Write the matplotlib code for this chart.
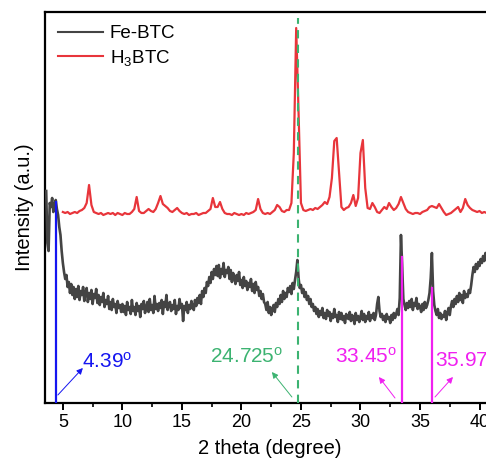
import numpy as np
import matplotlib
matplotlib.use("Agg")
import matplotlib.pyplot as plt

plt.rcParams['font.family'] = ['Liberation Sans', 'DejaVu Sans']
plt.rcParams['mathtext.fontset'] = 'custom'
plt.rcParams['mathtext.rm'] = 'Liberation Sans'
plt.rcParams['mathtext.it'] = 'Liberation Sans:italic'

# ---- scan grids (2 theta, degree) ----
two_theta_fe = np.round(np.arange(3.6, 41.41, 0.1), 1)
two_theta_h3 = np.round(np.arange(5.0, 41.41, 0.2), 1)

# ---- Fe-BTC intensity (a.u.) ----
fe_btc = [
    212, 160, 152, 200,
    196, 205, 191, 198, 203, 194, 188, 176, 168, 152,
    140, 131, 124, 128, 116, 121, 110, 119, 108, 116,
    104, 114, 106, 117, 103, 112, 108, 116, 102, 111,
    115, 101, 110, 104, 113, 99, 109, 105, 114, 100,
    108, 98, 106, 101, 110, 96, 103, 99, 107, 94,
    101, 93, 104, 96, 99, 90, 102, 95, 98, 91,
    99, 91, 97, 88, 101, 93, 96, 89, 103, 92,
    96, 88, 100, 92, 97, 86, 99, 94, 102, 90,
    95, 101, 91, 104, 93, 98, 90, 107, 94, 99,
    92, 100, 95, 103, 89, 101, 96, 108, 93, 99,
    101, 92, 98, 94, 103, 89, 97, 93, 104, 95,
    99, 82, 97, 93, 101, 90, 98, 94, 102, 96,
    93, 103, 97, 105, 100, 108, 99, 112, 106, 115,
    110, 121, 117, 126, 120, 131, 124, 134, 128, 137,
    127, 138, 125, 134, 129, 140, 126, 133, 130, 136,
    124, 133, 121, 130, 126, 119, 128, 122, 131, 118,
    123, 115, 126, 117, 122, 113, 120, 116, 124, 112,
    119, 110, 121, 113, 116, 107, 112, 104, 109, 101,
    99, 93, 101, 90, 96, 88, 94, 98, 91, 100,
    96, 104, 99, 108, 101, 112, 104, 110, 106, 115,
    111, 117, 109, 120, 114, 123, 131, 143, 125, 115,
    118, 110, 114, 106, 111, 103, 107, 99, 104, 96,
    99, 92, 96, 89, 94, 86, 92, 88, 95, 85,
    90, 84, 93, 87, 91, 82, 89, 85, 94, 86,
    88, 81, 91, 84, 90, 83, 87, 80, 89, 85,
    84, 91, 82, 88, 85, 79, 90, 83, 87, 81,
    86, 92, 83, 89, 81, 87, 84, 91, 82, 88,
    85, 90, 83, 88, 99, 106, 92, 86, 89, 83,
    87, 81, 89, 84, 86, 80, 88, 83, 90, 85,
    89, 94, 88, 105, 168, 138, 104, 98, 93, 100,
    95, 102, 96, 104, 93, 100, 97, 105, 94, 99,
    96, 91, 99, 93, 101, 95, 98, 103, 110, 125,
    150, 112, 98, 92, 88, 94, 85, 90, 84, 88,
    86, 92, 83, 90, 95, 88, 97, 102, 96, 104,
    99, 107, 101, 110, 103, 108, 100, 112, 105, 109,
    106, 113, 110, 118, 128, 136, 131, 139, 134, 141,
    137, 144, 140, 147, 142, 150, 146, 153, 149, 156,
    152, 158, 155, 161, 158,
]

# ---- H3BTC intensity (a.u.) ----
h3btc = [
    191, 190, 191, 189, 190,
    191, 190, 192, 193, 195,
    200, 218, 198, 191, 190,
    189, 190, 188, 189, 190,
    189, 190, 188, 190, 189,
    188, 190, 189, 189, 191,
    194, 206, 192, 190, 190,
    192, 194, 192, 191, 194,
    200, 207, 199, 197, 195,
    192, 191, 193, 195, 192,
    190, 189, 190, 188, 189,
    189, 190, 188, 189, 190,
    190, 192, 194, 205, 196,
    196, 201, 194, 190, 189,
    189, 188, 190, 189, 188,
    189, 188, 190, 189, 190,
    191, 193, 204, 194, 190,
    189, 190, 189, 191, 193,
    198, 196, 192, 191, 193,
    193, 200, 250, 375, 290,
    200, 193, 192, 193, 194,
    193, 195, 194, 196, 198,
    201, 199, 206, 225, 262,
    265, 230, 196, 193, 195,
    196, 200, 208, 197, 205,
    250, 263, 215, 195, 194,
    200, 196, 191, 190, 193,
    196, 194, 200, 196, 193,
    195, 199, 206, 200, 194,
    191, 190, 189, 190, 190,
    189, 191, 192, 193, 196,
    197, 196, 195, 199, 195,
    191, 188, 189, 190, 192,
    194, 196, 191, 195, 204,
    198, 195, 193, 192, 191,
    192, 190, 191, 190, 192,
    191, 190, 191,
]

# ---- marked reflections ----
peak_pos = [4.39, 24.725, 33.45, 35.97]
peak_top = [201, 385, 146, 115]
peak_labels = ['4.39', '24.725', '33.45', '35.97']
peak_colors = ['#1515f0', '#3cb371', '#f020f0', '#f020f0']
label_xy = [(6.6, 35), (17.35, 40), (27.86, 40), (36.26, 36)]
arrow_tail = [(4.58, 8), (24.24, 6), (32.9, 5), (36.26, 6)]
arrow_head = [(6.68, 35), (22.56, 31), (31.55, 26), (37.77, 26)]

fig = plt.figure(figsize=(4.86, 4.63), dpi=100)
ax = fig.add_axes([45 / 486, 60 / 463, 450 / 486, 391 / 463])

ax.plot(two_theta_fe, fe_btc, color='#444444', lw=1.9, label='Fe-BTC', zorder=3)
ax.plot(two_theta_h3, h3btc, color='#e8353b', lw=1.6, label=r'H$_\mathregular{3}$BTC', zorder=3)

for pos, top, lab, col, lxy, tail, head in zip(peak_pos, peak_top, peak_labels,
                                               peak_colors, label_xy, arrow_tail, arrow_head):
    if lab == '24.725':
        ax.plot([pos, pos], [0, top], color=col, lw=1.5, ls=(0, (4, 3)), zorder=4)
    else:
        ax.plot([pos, pos], [0, top], color=col, lw=1.6, zorder=4)
    ax.text(lxy[0], lxy[1], lab + r'$^\mathregular{o}$', color=col, fontsize=15,
            ha='left', va='baseline', zorder=5, clip_on=False)
    ax.annotate('', xy=head, xytext=tail,
                arrowprops=dict(arrowstyle='-|>', color=col, lw=0.7,
                                mutation_scale=9, shrinkA=0, shrinkB=0))

ax.set_xlim(3.5, 41.3)
ax.set_ylim(0, 391)
ax.set_xticks([5, 10, 15, 20, 25, 30, 35, 40])
ax.set_xticks(np.arange(7.5, 41, 5), minor=True)
ax.set_yticks([])
ax.tick_params(axis='x', which='major', direction='out', length=5, width=1.4,
               labelsize=13, pad=3)
ax.tick_params(axis='x', which='minor', direction='out', length=3, width=1.2)
for sp in ax.spines.values():
    sp.set_linewidth(1.6)

ax.set_xlabel('2 theta (degree)', fontsize=14.5, labelpad=6)
ax.set_ylabel('Intensity (a.u.)', fontsize=14.5, labelpad=8)

legend = ax.legend(loc='upper left', frameon=False, fontsize=13.5, handlelength=2.4,
                   handletextpad=0.35, labelspacing=0.3, borderpad=0.5, borderaxespad=0.2)
for handle in legend.get_lines():
    handle.set_linewidth(1.5)

fig.savefig('out.png', dpi=100)
